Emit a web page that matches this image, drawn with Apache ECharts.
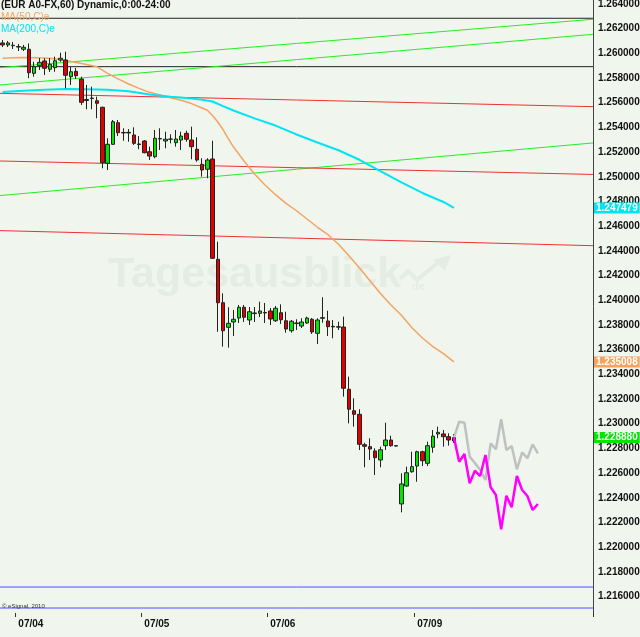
<!DOCTYPE html>
<html>
<head>
<meta charset="utf-8">
<script src="https://cdn.jsdelivr.net/npm/echarts@6/dist/echarts.min.js"></script>
<style>
html,body{margin:0;padding:0;background:#f0f5ee;}
#c{width:640px;height:637px;}
</style>
</head>
<body>
<div id="c"></div>
<script>
// ---- sessions (hourly bars) and axis labels ----
const sessions = [['07/03',21,3],['07/04',0,24],['07/05',0,24],['07/06',0,24],['07/08',20,4],['07/09',0,24],['07/10',0,10]];
const xTickLabels = ['07/04','07/05','07/06','07/09'];
const yTicks = [1.216,1.218,1.220,1.222,1.224,1.226,1.228,1.230,1.232,1.234,1.236,1.238,1.240,1.242,1.244,1.246,1.248,1.250,1.252,1.254,1.256,1.258,1.260,1.262,1.264];

// ---- hourly OHLC ----
const open = [1.26084,1.26068,1.26065,1.26055,1.26033,1.26033,1.25838,1.25900,1.25938,1.25871,1.25884,1.25946,1.25946,1.25811,1.25854,1.25792,1.25618,1.25638,1.25616,1.25563,1.25109,1.25263,1.25438,1.25359,1.25360,1.25339,1.25266,1.25290,1.25203,1.25163,1.25310,1.25290,1.25304,1.25276,1.25298,1.25352,1.25298,1.25223,1.25101,1.25061,1.25144,1.24332,1.23980,1.23781,1.23824,1.23856,1.23943,1.23840,1.23897,1.23894,1.23901,1.23913,1.23834,1.23899,1.23834,1.23753,1.23816,1.23791,1.23816,1.23846,1.23732,1.23859,1.23832,1.23789,1.23786,1.23783,1.23279,1.23105,1.23076,1.22830,1.22814,1.22779,1.22706,1.22822,1.22868,1.22822,1.22350,1.22495,1.22611,1.22657,1.22773,1.22679,1.22809,1.22917,1.22917,1.22895,1.22860];
const close = [1.26068,1.26084,1.26062,1.26051,1.26049,1.25843,1.25892,1.25927,1.25879,1.25911,1.25940,1.25960,1.25822,1.25851,1.25819,1.25603,1.25626,1.25634,1.25595,1.25114,1.25263,1.25446,1.25357,1.25355,1.25355,1.25271,1.25261,1.25195,1.25168,1.25312,1.25306,1.25304,1.25306,1.25306,1.25330,1.25304,1.25244,1.25136,1.25055,1.25136,1.24340,1.23980,1.23753,1.23813,1.23846,1.23943,1.23862,1.23907,1.23892,1.23913,1.23897,1.23848,1.23935,1.23842,1.23767,1.23830,1.23811,1.23824,1.23856,1.23743,1.23840,1.23854,1.23786,1.23784,1.23782,1.23287,1.23117,1.23076,1.22833,1.22817,1.22795,1.22725,1.22789,1.22868,1.22822,1.22819,1.22512,1.22603,1.22652,1.22773,1.22700,1.22822,1.22900,1.22930,1.22895,1.22868,1.22888];
const low = [1.26051,1.26051,1.26035,1.26019,1.26019,1.25798,1.25811,1.25865,1.25825,1.25849,1.25851,1.25932,1.25717,1.25744,1.25792,1.25582,1.25547,1.25547,1.25474,1.25069,1.25055,1.25258,1.25330,1.25292,1.25284,1.25258,1.25223,1.25190,1.25136,1.25150,1.25217,1.25231,1.25271,1.25244,1.25217,1.25284,1.25142,1.25122,1.25001,1.24988,1.24334,1.23745,1.23624,1.23616,1.23710,1.23816,1.23824,1.23800,1.23824,1.23864,1.23816,1.23800,1.23824,1.23808,1.23737,1.23737,1.23759,1.23775,1.23808,1.23727,1.23646,1.23818,1.23710,1.23692,1.23759,1.23219,1.23003,1.22976,1.22787,1.22647,1.22706,1.22585,1.22647,1.22787,1.22814,1.22817,1.22282,1.22490,1.22603,1.22530,1.22657,1.22657,1.22765,1.22882,1.22814,1.22822,1.22844];
const high = [1.26108,1.26100,1.26092,1.26076,1.26068,1.26080,1.25932,1.25962,1.25960,1.25962,1.25973,1.26005,1.26013,1.25889,1.25881,1.25811,1.25744,1.25730,1.25649,1.25568,1.25312,1.25460,1.25460,1.25393,1.25387,1.25401,1.25330,1.25298,1.25244,1.25379,1.25393,1.25365,1.25344,1.25379,1.25365,1.25373,1.25406,1.25320,1.25150,1.25150,1.25292,1.24474,1.24056,1.23943,1.23921,1.23962,1.23962,1.23945,1.23945,1.23988,1.23978,1.23937,1.23953,1.23967,1.23907,1.23840,1.23846,1.23854,1.23867,1.23856,1.23854,1.24024,1.23915,1.23840,1.23826,1.23867,1.23381,1.23206,1.23117,1.22846,1.22882,1.22801,1.22814,1.23008,1.22903,1.22825,1.22598,1.22652,1.22773,1.22781,1.22781,1.22854,1.22949,1.22976,1.22949,1.22922,1.22917];

// ---- moving averages (null = not read, line connects) ----
const ma50 = [1.25961,null,1.25965,null,1.25967,null,1.25965,null,1.25962,null,
  1.25957,null,1.25942,null,1.25926,null,1.25909,null,1.25891,null,
  1.25837,null,1.25793,null,1.25752,null,1.25716,null,1.25684,null,
  1.25663,null,1.25641,null,1.25620,null,1.25593,null,1.25557,1.25539,
  1.25496,1.25444,1.25383,1.25310,1.25241,null,1.25128,null,1.25023,null,
  1.24933,null,1.24855,null,1.24785,null,1.24725,null,1.24658,null,
  1.24591,null,1.24531,null,1.24454,null,1.24361,null,1.24261,null,
  1.24158,null,1.24055,null,1.23962,null,1.23879,null,1.23777,null,
  1.23694,null,1.23625,null,1.23567,null,1.235008];
const ma200 = [1.25687,null,null,null,1.25697,null,null,null,1.25705,null,
  null,null,1.25711,null,null,null,1.25710,null,null,null,
  1.25705,null,null,null,1.25692,null,null,null,1.25667,null,
  null,null,1.25649,null,null,null,1.25634,null,1.25624,null,
  1.25610,null,1.25573,null,1.25537,null,null,null,1.25473,null,
  null,null,1.25415,null,null,null,1.25343,null,null,null,
  1.25278,null,null,null,1.25215,null,null,null,1.25138,null,
  null,null,1.25045,null,null,null,1.24954,null,null,null,
  1.24869,null,null,null,1.24796,null,1.247479];

// ---- projected paths starting at the last bar ----
const projGrey = [1.22888,1.23016,1.23008,1.22733,1.22682,1.22625,1.22544,1.22841,1.22793,1.23036,1.22787,1.22819,1.22631,1.22768,1.22720,1.22833,1.22760];
const projMagenta = [1.22888,1.22692,1.22755,1.22517,1.22619,1.22576,1.22747,1.22485,1.22423,1.22145,1.22417,1.22323,1.22576,1.22463,1.22414,1.22301,1.22350];

// ---- drawn lines: [price at left edge, price at right edge] ----
const greenLines = [[1.25884,1.26276],[1.25744,1.26154],[1.24848,1.25274]];
const redLines = [[1.25676,1.25568],[1.25128,1.25019],[1.24564,1.24442]];
const blackLines = [[1.26284,1.26284],[1.25892,1.25892]];
const blueLines = [[1.21677,1.21677],[1.21507,1.21507]];

// ---- build ----
const categories = sessions.flatMap(([d,h0,n]) => Array.from({length:n},(_,k)=> d+' '+String(h0+k).padStart(2,'0')+':00'));
const labelSet = new Set(xTickLabels.map(d => d+' 00:00'));
const ohlc = open.map((o,i)=>[o, close[i], low[i], high[i]]);
const lastIdx = open.length - 1;
const pad = arr => Array(lastIdx).fill(null).concat(arr);
const xMin = -0.5, xMax = categories.length - 0.5;

function segSeries(lines, color, width) {
  return lines.map(([a,b]) => ({
    type:'line', xAxisIndex:1, yAxisIndex:0, data:[[xMin,a],[xMax,b]],
    symbol:'none', silent:true, z:1,
    lineStyle:{color:color, width:width}
  }));
}
// price tags on the right axis: an invisible horizontal series whose end label shows the value
function tagSeries(value, bg) {
  return {
    type:'line', xAxisIndex:1, yAxisIndex:0, data:[[xMin,value],[xMax,value]],
    symbol:'none', silent:true, z:20, clip:false,
    lineStyle:{color:'rgba(0,0,0,0)', width:1},
    endLabel:{show:true, distance:1, formatter:()=>value.toFixed(6),
      backgroundColor:bg, color:'#ffffff', fontWeight:'bold', fontSize:10,
      fontFamily:'Liberation Sans', padding:[1,2,0,2]}
  };
}

const chart = echarts.init(document.getElementById('c'), null, {renderer:'canvas'});
const FONT = 'Liberation Sans';
chart.setOption({
  animation:false,
  backgroundColor:'#f0f5ee',
  grid:{left:0, right:47, top:0, bottom:24, containLabel:false, outerBoundsMode:'none'},
  xAxis:[{
    type:'category', data:categories, boundaryGap:true,
    axisLine:{show:false, onZero:false},
    axisTick:{show:true, length:4, interval:(i,v)=>labelSet.has(v), lineStyle:{color:'#333'}},
    axisLabel:{interval:(i,v)=>labelSet.has(v), formatter:v=>v.slice(0,5), align:'left',
      fontFamily:FONT, fontWeight:'bold', fontSize:10, color:'#111', margin:6},
    splitLine:{show:false}
  },{
    type:'value', min:xMin, max:xMax, show:false, axisLine:{onZero:false}
  }],
  yAxis:[{
    type:'value', position:'right', min:1.214667, max:1.26432, scale:true,
    axisLine:{show:true, onZero:false, lineStyle:{color:'#444', width:1}},
    axisTick:{show:false},
    splitLine:{show:false},
    axisLabel:{customValues:yTicks, formatter:v=>v.toFixed(6), fontFamily:FONT, fontWeight:'bold',
      fontSize:10, color:'#111', margin:5}
  }],
  graphic:[
    {type:'text', left:108, top:254, z:0, silent:true,
     style:{text:'Tagesausblick', font:'bold 43px "Liberation Sans"', fill:'#e5ece2'}},
    {type:'text', left:412, top:281, z:0, silent:true,
     style:{text:'de', font:'bold 11px "Liberation Sans"', fill:'#e5ece2'}},
    {type:'polyline', z:0, silent:true, shape:{points:[[400,279],[408,271],[417,280],[440,261]]},
     style:{stroke:'#e5ece2', lineWidth:4, fill:null}},
    {type:'polygon', z:0, silent:true, shape:{points:[[433,260],[451,255],[445,271]]},
     style:{fill:'#e5ece2'}},
    {type:'text', left:1, top:0, z:10, style:{text:'(EUR A0-FX,60) Dynamic,0:00-24:00', font:'bold 10px "Liberation Sans"', fill:'#111'}},
    {type:'text', left:1, top:12, z:10, style:{text:'MA(50,C)e', font:'10px "Liberation Sans"', fill:'#f4a460'}},
    {type:'text', left:1, top:24, z:10, style:{text:'MA(200,C)e', font:'10px "Liberation Sans"', fill:'#00e5f0'}},
    {type:'text', left:2, top:603, z:10, style:{text:'© eSignal, 2010', font:'6px "Liberation Sans"', fill:'#333'}}
  ],
  series:[
    ...segSeries(blackLines,'#222222',1),
    ...segSeries(greenLines,'#22ee22',1),
    ...segSeries(redLines,'#ee3030',1),
    ...segSeries(blueLines,'#5050ff',1),
    {type:'line', name:'MA(50,C)e', data:ma50, connectNulls:true, symbol:'none', z:2,
     lineStyle:{color:'#f4a460', width:1.5}},
    {type:'line', name:'MA(200,C)e', data:ma200, connectNulls:true, symbol:'none', z:2,
     lineStyle:{color:'#00e5f0', width:2}},
    {type:'candlestick', data:ohlc, barWidth:4, z:3,
     itemStyle:{color:'#00e600', color0:'#e00000', borderColor:'#222', borderColor0:'#222', borderColorDoji:'#222', borderWidth:1}},
    {type:'line', data:pad(projGrey), symbol:'none', z:4, lineStyle:{color:'#c0c0c0', width:2.5}},
    {type:'line', data:pad(projMagenta), symbol:'none', z:5, lineStyle:{color:'#ff00ff', width:2.5}},
    tagSeries(ma200[lastIdx], '#00e5f0'),
    tagSeries(ma50[lastIdx], '#f4a460'),
    tagSeries(close[lastIdx], '#00e600')
  ]
});
</script>
</body>
</html>
